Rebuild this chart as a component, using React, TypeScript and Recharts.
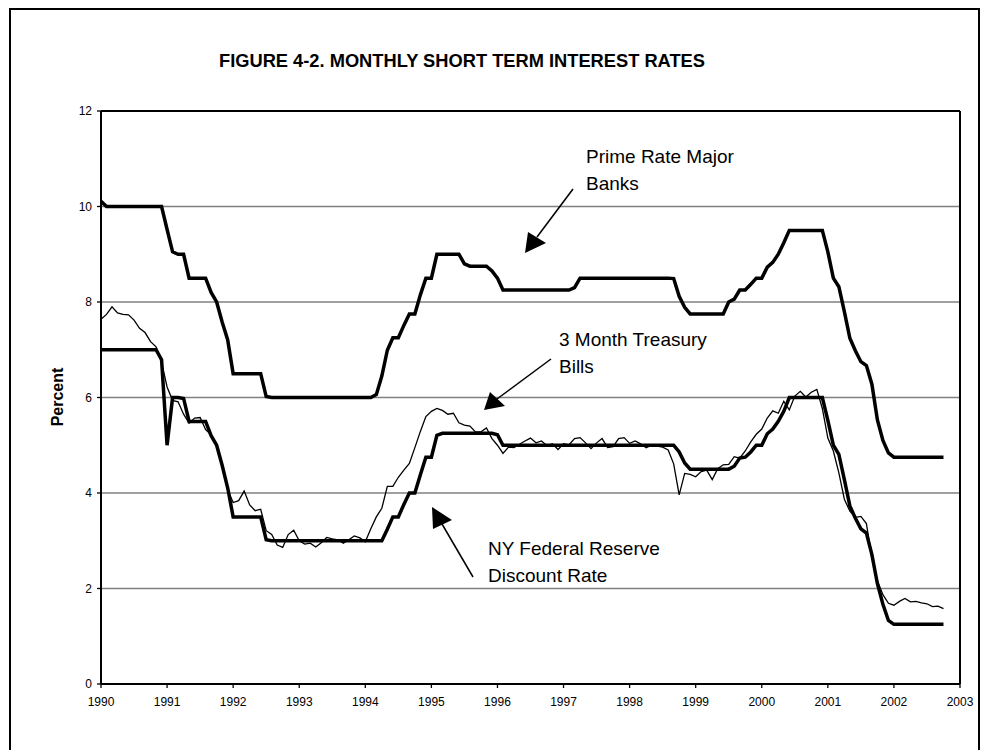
import React from "react";
import { CartesianGrid, Line, LineChart, ReferenceLine, XAxis, YAxis } from "recharts";

// monthly, Jan 1990 .. Oct 2002
const START_YEAR = 1990;

const primeRate = [
  10.11, 10.0, 10.0, 10.0, 10.0, 10.0, 10.0, 10.0, 10.0, 10.0, 10.0, 10.0,
  9.52, 9.05, 9.0, 9.0, 8.5, 8.5, 8.5, 8.5, 8.2, 8.0, 7.58, 7.21,
  6.5, 6.5, 6.5, 6.5, 6.5, 6.5, 6.02, 6.0, 6.0, 6.0, 6.0, 6.0,
  6.0, 6.0, 6.0, 6.0, 6.0, 6.0, 6.0, 6.0, 6.0, 6.0, 6.0, 6.0,
  6.0, 6.0, 6.06, 6.45, 6.99, 7.25, 7.25, 7.51, 7.75, 7.75, 8.15, 8.5,
  8.5, 9.0, 9.0, 9.0, 9.0, 9.0, 8.8, 8.75, 8.75, 8.75, 8.75, 8.65,
  8.5, 8.25, 8.25, 8.25, 8.25, 8.25, 8.25, 8.25, 8.25, 8.25, 8.25, 8.25,
  8.25, 8.25, 8.3, 8.5, 8.5, 8.5, 8.5, 8.5, 8.5, 8.5, 8.5, 8.5,
  8.5, 8.5, 8.5, 8.5, 8.5, 8.5, 8.5, 8.5, 8.49, 8.12, 7.89, 7.75,
  7.75, 7.75, 7.75, 7.75, 7.75, 7.75, 8.0, 8.06, 8.25, 8.25, 8.37, 8.5,
  8.5, 8.73, 8.83, 9.0, 9.24, 9.5, 9.5, 9.5, 9.5, 9.5, 9.5, 9.5,
  9.05, 8.5, 8.32, 7.8, 7.24, 6.98, 6.75, 6.67, 6.28, 5.53, 5.1, 4.84,
  4.75, 4.75, 4.75, 4.75, 4.75, 4.75, 4.75, 4.75, 4.75, 4.75,
];

const treasuryBills = [
  7.64, 7.74, 7.9, 7.77, 7.74, 7.73, 7.62, 7.45, 7.36, 7.17, 7.06, 6.74,
  6.22, 5.94, 5.91, 5.65, 5.46, 5.57, 5.58, 5.33, 5.22, 4.99, 4.56, 4.07,
  3.8, 3.84, 4.04, 3.75, 3.63, 3.66, 3.21, 3.13, 2.91, 2.86, 3.13, 3.22,
  3.0, 2.93, 2.95, 2.87, 2.96, 3.07, 3.04, 3.02, 2.95, 3.02, 3.1, 3.06,
  2.98, 3.25, 3.5, 3.68, 4.14, 4.14, 4.33, 4.48, 4.62, 4.95, 5.29, 5.6,
  5.71, 5.77, 5.73, 5.65, 5.67, 5.47, 5.42, 5.4, 5.28, 5.28, 5.36, 5.14,
  5.0, 4.83, 4.96, 4.95, 5.02, 5.09, 5.15, 5.05, 5.09, 4.99, 5.03, 4.91,
  5.03, 5.01, 5.14, 5.16, 5.05, 4.93, 5.05, 5.14, 4.95, 4.97, 5.14, 5.16,
  5.04, 5.09, 5.03, 4.95, 5.0, 4.98, 4.96, 4.9, 4.61, 3.96, 4.41, 4.39,
  4.34, 4.45, 4.48, 4.28, 4.51, 4.59, 4.6, 4.76, 4.73, 4.88, 5.07, 5.23,
  5.34, 5.57, 5.72, 5.67, 5.92, 5.74, 6.03, 6.13, 6.01, 6.11, 6.17, 5.77,
  5.15, 4.88, 4.42, 3.87, 3.62, 3.49, 3.51, 3.36, 2.64, 2.16, 1.87, 1.69,
  1.65, 1.73, 1.79, 1.72, 1.73, 1.7, 1.68, 1.62, 1.63, 1.58,
];

const discountRate = [
  7.0, 7.0, 7.0, 7.0, 7.0, 7.0, 7.0, 7.0, 7.0, 7.0, 7.0, 6.79,
  5.0, 6.0, 6.0, 5.98, 5.5, 5.5, 5.5, 5.5, 5.2, 5.0, 4.58, 4.11,
  3.5, 3.5, 3.5, 3.5, 3.5, 3.5, 3.02, 3.0, 3.0, 3.0, 3.0, 3.0,
  3.0, 3.0, 3.0, 3.0, 3.0, 3.0, 3.0, 3.0, 3.0, 3.0, 3.0, 3.0,
  3.0, 3.0, 3.0, 3.0, 3.24, 3.5, 3.5, 3.76, 4.0, 4.0, 4.38, 4.75,
  4.75, 5.21, 5.25, 5.25, 5.25, 5.25, 5.25, 5.25, 5.25, 5.25, 5.25, 5.25,
  5.22, 5.0, 5.0, 5.0, 5.0, 5.0, 5.0, 5.0, 5.0, 5.0, 5.0, 5.0,
  5.0, 5.0, 5.0, 5.0, 5.0, 5.0, 5.0, 5.0, 5.0, 5.0, 5.0, 5.0,
  5.0, 5.0, 5.0, 5.0, 5.0, 5.0, 5.0, 5.0, 5.0, 4.86, 4.63, 4.5,
  4.5, 4.5, 4.5, 4.5, 4.5, 4.5, 4.5, 4.56, 4.73, 4.75, 4.86, 5.0,
  5.0, 5.24, 5.34, 5.5, 5.71, 6.0, 6.0, 6.0, 6.0, 6.0, 6.0, 6.0,
  5.52, 5.0, 4.81, 4.28, 3.73, 3.47, 3.25, 3.16, 2.71, 2.1, 1.67, 1.33,
  1.25, 1.25, 1.25, 1.25, 1.25, 1.25, 1.25, 1.25, 1.25, 1.25,
];

const yearTicks = [1990, 1991, 1992, 1993, 1994, 1995, 1996, 1997, 1998, 1999, 2000, 2001, 2002, 2003];
const percentTicks = [0, 2, 4, 6, 8, 10, 12];

const FONT = '"Liberation Sans", Arial, sans-serif';

const data = primeRate.map((p, i) => ({
  t: START_YEAR + i / 12,
  prime: p,
  tbill: treasuryBills[i],
  discount: discountRate[i],
}));

export default function App(): React.JSX.Element {
  return (
    <div style={{ position: "absolute", left: 0, top: 0, width: 981, height: 750, background: "#fff" }}>
      <LineChart
        width={981}
        height={750}
        data={data}
        margin={{ top: 111, right: 21, left: 61, bottom: 36 }}
        style={{ fontFamily: FONT }}
      >
        <CartesianGrid vertical={false} stroke="#808080" strokeWidth={1.3} />
        <XAxis
          dataKey="t"
          type="number"
          domain={[1990, 2003]}
          ticks={yearTicks}
          height={30}
          tick={{ fontSize: 12, fill: "#000" }}
          tickSize={4}
          tickMargin={9}
          axisLine={{ stroke: "#000", strokeWidth: 2 }}
          tickLine={{ stroke: "#000", strokeWidth: 1.3 }}
        />
        <YAxis
          type="number"
          domain={[0, 12]}
          ticks={percentTicks}
          width={40}
          tick={{ fontSize: 12, fill: "#000" }}
          tickSize={4}
          tickMargin={5}
          axisLine={{ stroke: "#000", strokeWidth: 2 }}
          tickLine={{ stroke: "#000", strokeWidth: 1.3 }}
        />
        <ReferenceLine y={12} stroke="#000" strokeWidth={2} />
        <ReferenceLine x={2003} stroke="#000" strokeWidth={2} />
        <Line dataKey="prime" stroke="#000" strokeWidth={3.5} dot={false} isAnimationActive={false} />
        <Line dataKey="discount" stroke="#000" strokeWidth={3.5} dot={false} isAnimationActive={false} />
        <Line dataKey="tbill" stroke="#000" strokeWidth={1.3} dot={false} isAnimationActive={false} />
      </LineChart>

      {/* frame, title and callouts */}
      <svg
        width={981}
        height={750}
        style={{ position: "absolute", left: 0, top: 0, pointerEvents: "none", fontFamily: FONT }}
      >
        <rect x={10} y={9} width={969} height={760} fill="none" stroke="#000" strokeWidth={2} />
        <text x={462} y={67} textAnchor="middle" fontSize={19} fontWeight="bold" textLength={486} lengthAdjust="spacingAndGlyphs">
          FIGURE 4-2. MONTHLY SHORT TERM INTEREST RATES
        </text>
        <text
          x={0}
          y={0}
          transform="translate(63,397) rotate(-90)"
          textAnchor="middle"
          fontSize={16}
          fontWeight="bold"
        >
          Percent
        </text>

        <text x={586} y={163} fontSize={19}>Prime Rate Major</text>
        <text x={586} y={190} fontSize={19}>Banks</text>
        <line x1={573} y1={189} x2={537} y2={237} stroke="#000" strokeWidth={1.5} />
        <polygon points="525,253 528,232 546,243" fill="#000" />

        <text x={559} y={346} fontSize={19}>3 Month Treasury</text>
        <text x={559} y={373} fontSize={19}>Bills</text>
        <line x1={551} y1={359} x2={497} y2={399} stroke="#000" strokeWidth={1.5} />
        <polygon points="484,410 490,392 505,406" fill="#000" />

        <text x={488} y={555} fontSize={19}>NY Federal Reserve</text>
        <text x={488} y={582} fontSize={19}>Discount Rate</text>
        <line x1={473} y1={577} x2={442} y2={524} stroke="#000" strokeWidth={1.5} />
        <polygon points="432,507 433,529 452,520" fill="#000" />
      </svg>
    </div>
  );
}
